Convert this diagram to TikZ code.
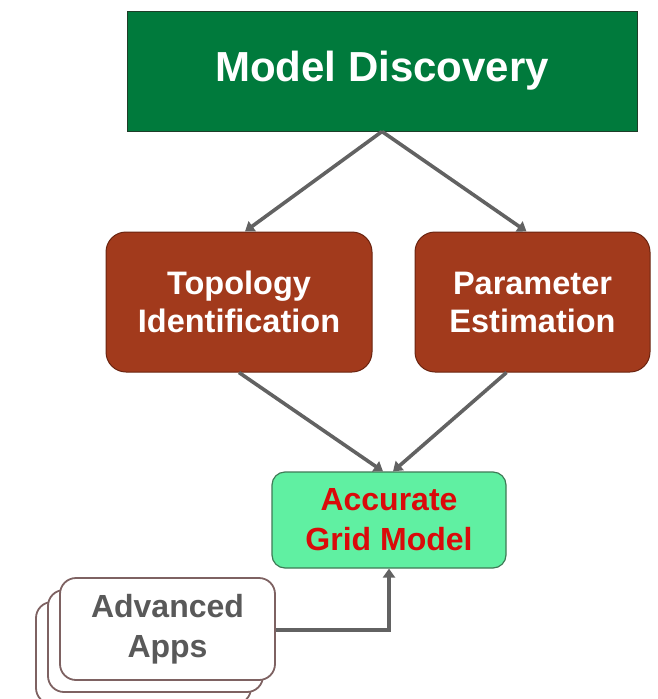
\documentclass[tikz,border=0pt]{standalone}
\usepackage{fontspec}
\setmainfont{Liberation Sans}
\usetikzlibrary{arrows.meta,shadows}
\definecolor{mdgreen}{HTML}{007A3C}
\definecolor{mdedge}{HTML}{1E3D28}
\definecolor{brick}{HTML}{A23A1C}
\definecolor{brickedge}{HTML}{6A2410}
\definecolor{mint}{HTML}{60F0A2}
\definecolor{mintedge}{HTML}{3F7A56}
\definecolor{accred}{HTML}{DA0A0A}
\definecolor{link}{HTML}{626262}
\definecolor{appedge}{HTML}{7E6262}
\tikzset{
  box/.style={rounded corners=20pt,fill=brick,draw=brickedge,line width=1pt,
    text=white,font=\bfseries\fontsize{32.5}{38}\selectfont,align=center,
    minimum height=140pt,inner sep=0pt},
  link/.style={draw=link,line width=3.6pt,-{Triangle[length=9pt,width=12pt]}}
}
\begin{document}
\begin{tikzpicture}[x=1pt,y=-1pt]
\useasboundingbox (0,0) rectangle (658,699);
\clip (0,0) rectangle (658,699);
\node (md) at (382,71) [fill=mdgreen,draw=mdedge,line width=1pt,minimum width=510pt,minimum height=120pt,
  text=white,font=\bfseries\fontsize{42}{48}\selectfont] {Model Discovery};
\node[box,minimum width=266pt] (topo) at (239,302) {Topology\\Identification};
\node[box,minimum width=235pt] (param) at (532.5,302) {Parameter\\Estimation};
\node (acc) at (389,520) [rounded corners=13pt,fill=mint,draw=mintedge,line width=1.2pt,minimum width=234pt,
  minimum height=96pt,inner sep=0pt,align=center,text=accred,font=\bfseries\fontsize{32}{40}\selectfont]
  {Accurate\\Grid Model};
\node (apps) at (167.5,629) [rounded corners=16pt,fill=white,draw=appedge,line width=1.8pt,minimum width=215pt,
  minimum height=102pt,inner sep=0pt,align=center,text=black!65,font=\bfseries\fontsize{32}{40}\selectfont,
  double copy shadow={shadow xshift=-12pt,shadow yshift=-12pt}] {Advanced\\Apps};
\draw[link] (md.south) -- ([xshift=6pt]topo.north);
\draw[link] (md.south) -- ([xshift=-6pt]param.north);
\draw[link] (topo.south) -- ([xshift=-6pt]acc.north);
\draw[link] ([xshift=-26pt]param.south) -- ([xshift=4pt]acc.north);
\draw[link] ([yshift=-1pt]apps.east) -| (acc.south);
\end{tikzpicture}
\end{document}
